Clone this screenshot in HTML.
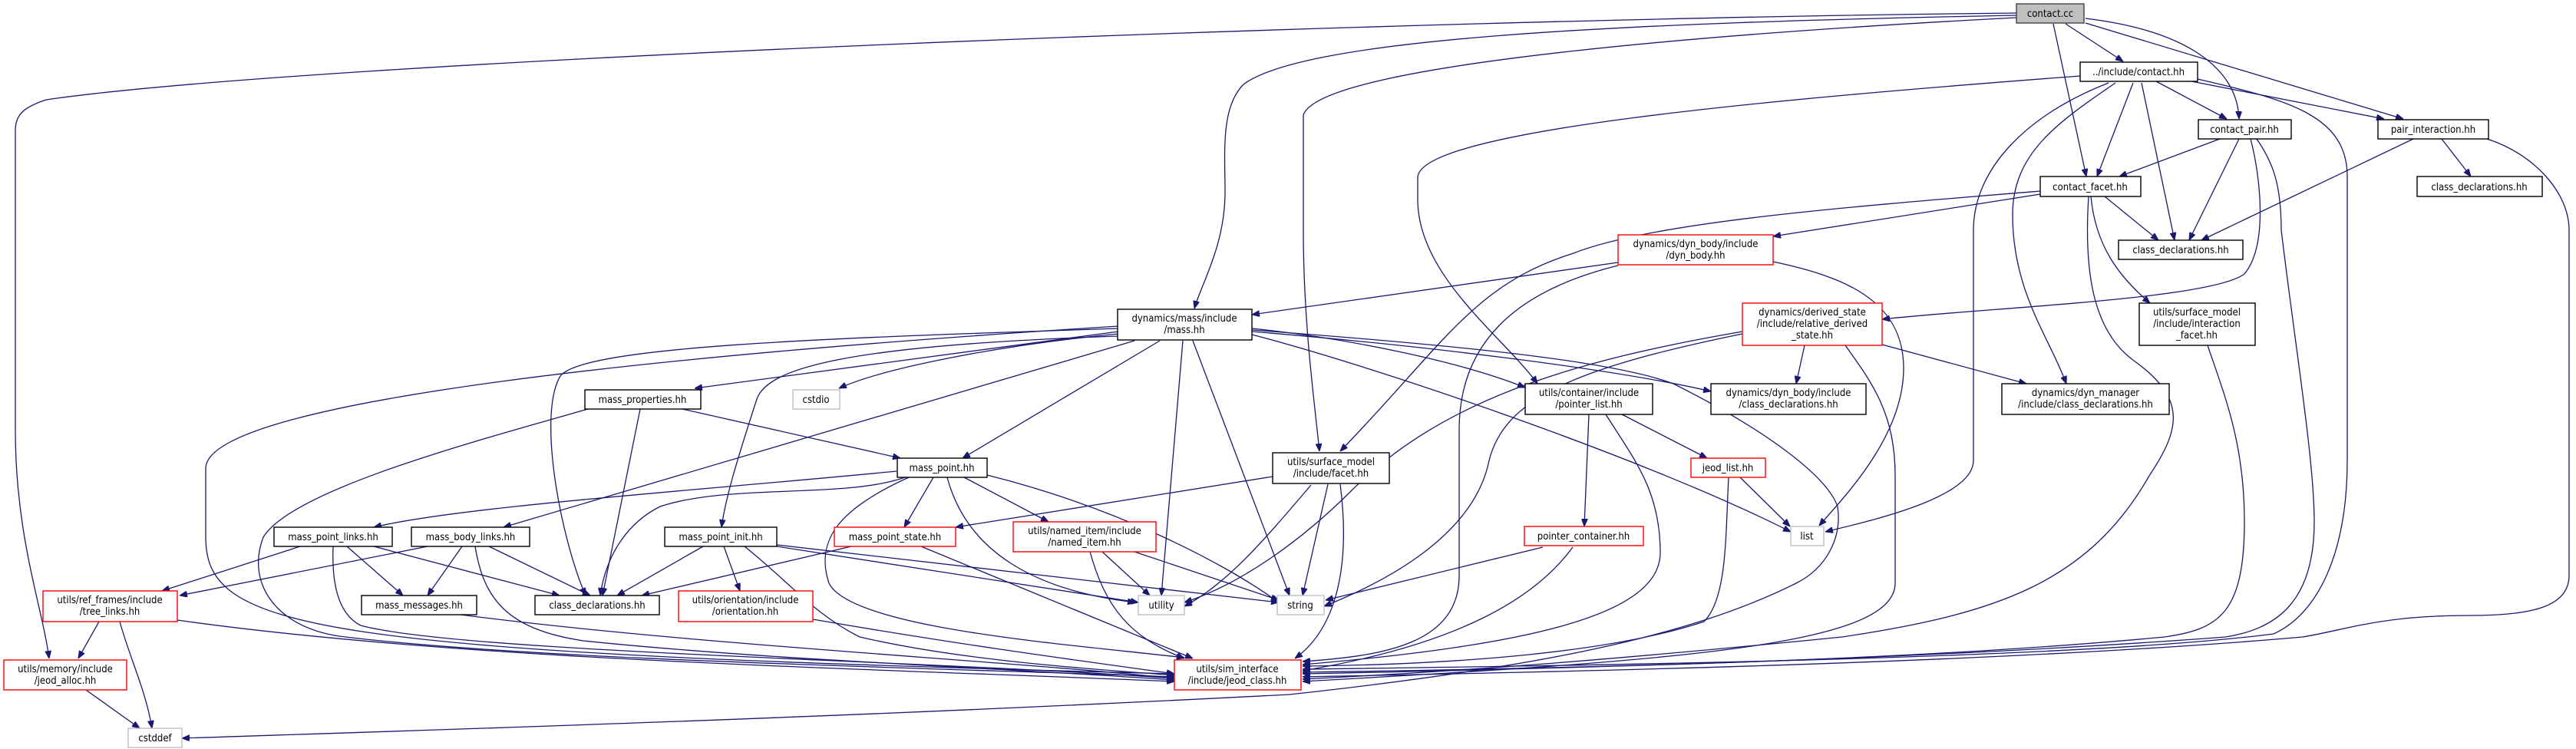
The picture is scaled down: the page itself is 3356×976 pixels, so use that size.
<!DOCTYPE html>
<html><head><meta charset="utf-8"><style>
html,body{margin:0;padding:0;background:#fff;}
svg{display:block;}
text{font-family:"DejaVu Sans Condensed","Liberation Sans",sans-serif;font-size:13px;fill:#000;}
.e{fill:none;stroke:#191970;stroke-width:1.3;marker-end:url(#a);}
.n{fill:#fff;stroke:#000;stroke-width:1.4;}
.r{fill:#fff;stroke:#ff0000;stroke-width:1.4;}
.g{fill:#fff;stroke:#bfbfbf;stroke-width:1.4;}
</style></head><body>
<svg width="3356" height="976" viewBox="0 0 3356 976" xmlns="http://www.w3.org/2000/svg">
<defs><marker id="a" viewBox="0 0 10 8" refX="10" refY="4" markerWidth="10" markerHeight="8" markerUnits="userSpaceOnUse" orient="auto"><path d="M0,0 L10,4 L0,8 z" fill="#191970" stroke="#191970"/></marker></defs>
<g>
<!-- contact.cc edges -->
<path class="e" d="M2627,17 C1800,25 400,80 60,130 C30,140 20,150 20,170 L20,560 C20,700 55,790 64,858"/>
<path class="e" d="M2627,20 C2100,30 1700,50 1620,110 C1590,140 1596,200 1596,250 C1596,320 1565,370 1556,402"/>
<path class="e" d="M2627,23 C2300,40 1720,80 1698,150 L1698,300 C1698,420 1712,520 1719,588"/>
<path class="e" d="M2691,31 L2766,80"/>
<path class="e" d="M2675,31 L2718,230"/>
<path class="e" d="M2717,24 C2850,40 2915,90 2917,155"/>
<path class="e" d="M2717,30 L3131,155"/>
<!-- contact.hh edges -->
<path class="e" d="M2809,106 L2901,155"/>
<path class="e" d="M2855,106 L3106,155"/>
<path class="e" d="M2779,108 L2732,230"/>
<path class="e" d="M2790,108 L2833,313"/>
<path class="e" d="M2747,108 C2640,150 2571,220 2571,300 L2571,600 C2571,650 2430,680 2378,693"/>
<path class="e" d="M2756,108 C2680,160 2622,200 2622,280 C2622,380 2670,440 2692,500"/>
<path class="e" d="M2710,99 C2300,130 1850,170 1847,231 L1847,260 C1847,360 1960,440 2003,500"/>
<path class="e" d="M2863,103 C2980,130 3058,150 3058,230 L3058,600 C3058,720 3020,800 2962,826 C2700,860 2000,868 1697,872"/>
<!-- contact_pair edges -->
<path class="e" d="M2892,181 L2761,230"/>
<path class="e" d="M2917,181 L2852,313"/>
<path class="e" d="M2932,181 C2945,230 2955,320 2924,357 C2880,390 2600,400 2452,416"/>
<path class="e" d="M2940,181 C2960,210 2972,238 2972,300 C2990,450 3015,600 3015,680 C3015,790 2960,820 2900,830 C2500,860 2000,872 1697,878"/>
<!-- pair_interaction edges -->
<path class="e" d="M3181,181 L3219,230"/>
<path class="e" d="M3144,181 L2868,313"/>
<path class="e" d="M3240,181 C3300,200 3347,250 3347,300 L3347,750 C3347,790 3300,802 3219,802 C3100,802 3060,820 3000,830 C2600,865 2000,876 1697,882"/>
<!-- contact_facet edges -->
<path class="e" d="M2742,256 L2812,313"/>
<path class="e" d="M2658,253 L2310,308"/>
<path class="e" d="M2724,256 C2730,320 2760,360 2801,395"/>
<path class="e" d="M2658,249 C2400,270 2150,290 2050,330 C1920,370 1880,450 1746,588"/>
<path class="e" d="M2721,256 C2715,350 2725,430 2780,470 C2850,520 2840,560 2800,620 C2720,760 2600,800 2400,830 C2100,860 1900,875 1697,885"/>
<!-- dyn_body edges -->
<path class="e" d="M2108,342 L1631,410"/>
<path class="e" d="M2310,341 C2400,360 2480,390 2480,480 C2480,570 2400,650 2370,685"/>
<path class="e" d="M2108,346 C1970,380 1901,450 1901,560 L1901,750 C1901,840 1800,855 1697,862"/>
<!-- relative_derived_state edges -->
<path class="e" d="M2351,450 L2340,500"/>
<path class="e" d="M2452,449 L2640,500"/>
<path class="e" d="M2270,432 C2050,470 1880,520 1760,640 C1700,700 1620,760 1543,785"/>
<path class="e" d="M2270,435 C2050,480 1960,520 1940,600 C1920,700 1800,760 1725,790"/>
<path class="e" d="M2404,450 C2440,500 2469,540 2469,620 L2469,760 C2469,840 2200,860 1697,888"/>
<!-- mass.hh edges -->
<path class="e" d="M1457,432 L905,506"/>
<path class="e" d="M1457,435 C1300,450 1150,480 1093,506"/>
<path class="e" d="M1511,444 L1254,597"/>
<path class="e" d="M1478,444 L656,687"/>
<path class="e" d="M1457,438 C1100,450 1000,480 986,520 C960,600 945,650 940,687"/>
<path class="e" d="M1457,428 C1100,440 760,450 730,490 C700,540 730,700 763,776"/>
<path class="e" d="M1457,425 C900,460 270,520 268,610 L268,700 C268,820 400,850 1530,878"/>
<path class="e" d="M1541,444 L1513,776"/>
<path class="e" d="M1554,444 L1680,776"/>
<path class="e" d="M1631,428 C1750,440 1900,470 1987,505"/>
<path class="e" d="M1631,432 C1850,450 2100,480 2229,510"/>
<path class="e" d="M1631,436 C1800,480 2150,600 2333,693"/>
<path class="e" d="M1631,430 C1900,450 2100,470 2180,500 C2300,560 2380,620 2394,660 C2400,700 2380,740 2340,760 C2200,830 2000,870 1680,905 C1100,935 600,950 237,962"/>
<!-- mass_properties edges -->
<path class="e" d="M889,533 L1173,597"/>
<path class="e" d="M834,533 L785,776"/>
<path class="e" d="M766,533 C600,580 380,640 343,700 C320,760 360,820 450,830 C700,860 1200,870 1530,882"/>
<!-- mass_point edges -->
<path class="e" d="M1168,614 C900,640 600,660 487,687"/>
<path class="e" d="M1179,622 C1100,650 950,630 860,660 C820,680 790,720 782,776"/>
<path class="e" d="M1216,622 L1178,687"/>
<path class="e" d="M1256,622 L1366,680"/>
<path class="e" d="M1234,622 C1260,720 1350,770 1479,785"/>
<path class="e" d="M1286,619 C1450,660 1590,730 1666,785"/>
<path class="e" d="M1184,622 C1100,660 1060,700 1080,760 C1110,820 1400,840 1543,857"/>
<!-- mass_point_links -->
<path class="e" d="M391,712 L211,770"/>
<path class="e" d="M452,712 L525,776"/>
<path class="e" d="M487,712 L729,776"/>
<path class="e" d="M434,712 C432,760 440,800 470,815 C600,850 1200,860 1530,884"/>
<!-- mass_body_links -->
<path class="e" d="M557,712 L234,776"/>
<path class="e" d="M602,712 L557,776"/>
<path class="e" d="M637,712 L769,776"/>
<path class="e" d="M619,712 C630,780 660,820 760,835 C1000,860 1300,870 1530,886"/>
<!-- mass_point_init -->
<path class="e" d="M916,712 L804,776"/>
<path class="e" d="M943,712 L964,770"/>
<path class="e" d="M1012,712 L1483,785"/>
<path class="e" d="M1012,710 L1666,785"/>
<path class="e" d="M970,712 C1030,760 1060,800 1120,830 C1250,860 1400,870 1530,880"/>
<!-- mass_point_state -->
<path class="e" d="M1109,712 L836,776"/>
<path class="e" d="M1200,712 L1554,858"/>
<!-- named_item -->
<path class="e" d="M1436,719 L1498,776"/>
<path class="e" d="M1478,719 L1666,782"/>
<path class="e" d="M1420,719 C1440,790 1470,830 1543,858"/>
<!-- tree_links -->
<path class="e" d="M129,810 L102,858"/>
<path class="e" d="M156,810 C170,860 190,900 198,949"/>
<path class="e" d="M231,808 C600,860 1100,870 1530,888"/>
<path class="e" d="M112,899 L182,949"/>
<path class="e" d="M600,801 C900,840 1300,860 1530,884"/>
<path class="e" d="M1059,807 C1250,840 1400,860 1530,878"/>
<!-- facet.hh -->
<path class="e" d="M1658,621 L1245,687"/>
<path class="e" d="M1708,632 C1650,700 1600,760 1543,790"/>
<path class="e" d="M1730,631 L1697,776"/>
<path class="e" d="M1746,631 C1760,740 1740,820 1687,858"/>
<!-- pointer_list -->
<path class="e" d="M2113,540 L2224,597"/>
<path class="e" d="M2070,540 L2064,686"/>
<path class="e" d="M2092,540 C2130,600 2163,640 2163,720 C2163,800 2000,840 1697,866"/>
<!-- jeod_list -->
<path class="e" d="M2267,622 L2332,686"/>
<path class="e" d="M2252,622 C2248,700 2250,780 2220,810 C2100,850 1900,866 1697,868"/>
<!-- pointer_container -->
<path class="e" d="M2010,713 L1727,782"/>
<path class="e" d="M2049,713 C2000,780 1900,840 1697,874"/>
<!-- interaction_facet -->
<path class="e" d="M2876,450 C2900,520 2924,580 2924,680 C2924,800 2890,820 2820,830 C2500,860 2100,870 1697,876"/>
</g>
<!-- nodes -->
<rect x="2627" y="5" width="88" height="25" fill="#bfbfbf" stroke="#404040" stroke-width="1.4"/><text x="2671" y="22" text-anchor="middle">contact.cc</text>
<rect class="n" x="2710" y="81" width="153" height="25"/><text x="2786" y="98" text-anchor="middle">../include/contact.hh</text>
<rect class="n" x="2864" y="156" width="121" height="25"/><text x="2924" y="173" text-anchor="middle">contact_pair.hh</text>
<rect class="n" x="3098" y="156" width="144" height="25"/><text x="3170" y="173" text-anchor="middle">pair_interaction.hh</text>
<rect class="n" x="2658" y="230" width="131" height="26"/><text x="2723" y="248" text-anchor="middle">contact_facet.hh</text>
<rect class="n" x="3149" y="230" width="163" height="26"/><text x="3230" y="248" text-anchor="middle">class_declarations.hh</text>
<rect class="n" x="2760" y="313" width="162" height="25"/><text x="2841" y="330" text-anchor="middle">class_declarations.hh</text>
<rect class="r" x="2108" y="306" width="202" height="39"/><text x="2209" y="322" text-anchor="middle">dynamics/dyn_body/include</text><text x="2209" y="337" text-anchor="middle">/dyn_body.hh</text>
<rect class="r" x="2270" y="395" width="182" height="55"/><text x="2361" y="411" text-anchor="middle">dynamics/derived_state</text><text x="2361" y="426" text-anchor="middle">/include/relative_derived</text><text x="2361" y="441" text-anchor="middle">_state.hh</text>
<rect class="n" x="2787" y="395" width="151" height="55"/><text x="2862" y="411" text-anchor="middle">utils/surface_model</text><text x="2862" y="426" text-anchor="middle">/include/interaction</text><text x="2862" y="441" text-anchor="middle">_facet.hh</text>
<rect class="n" x="1456" y="403" width="175" height="40"/><text x="1543" y="419" text-anchor="middle">dynamics/mass/include</text><text x="1543" y="434" text-anchor="middle">/mass.hh</text>
<rect class="n" x="1987" y="500" width="166" height="40"/><text x="2070" y="516" text-anchor="middle">utils/container/include</text><text x="2070" y="531" text-anchor="middle">/pointer_list.hh</text>
<rect class="n" x="2229" y="500" width="202" height="40"/><text x="2330" y="516" text-anchor="middle">dynamics/dyn_body/include</text><text x="2330" y="531" text-anchor="middle">/class_declarations.hh</text>
<rect class="n" x="2608" y="500" width="218" height="40"/><text x="2717" y="516" text-anchor="middle">dynamics/dyn_manager</text><text x="2717" y="531" text-anchor="middle">/include/class_declarations.hh</text>
<rect class="n" x="762" y="508" width="151" height="25"/><text x="837" y="525" text-anchor="middle">mass_properties.hh</text>
<rect class="g" x="1033" y="508" width="61" height="25"/><text x="1063" y="525" text-anchor="middle">cstdio</text>
<rect class="n" x="1169" y="597" width="117" height="25"/><text x="1227" y="614" text-anchor="middle">mass_point.hh</text>
<rect class="n" x="1658" y="590" width="152" height="40"/><text x="1734" y="606" text-anchor="middle">utils/surface_model</text><text x="1734" y="621" text-anchor="middle">/include/facet.hh</text>
<rect class="r" x="2203" y="597" width="97" height="25"/><text x="2251" y="614" text-anchor="middle">jeod_list.hh</text>
<rect class="n" x="357" y="687" width="154" height="25"/><text x="434" y="704" text-anchor="middle">mass_point_links.hh</text>
<rect class="n" x="536" y="687" width="154" height="25"/><text x="613" y="704" text-anchor="middle">mass_body_links.hh</text>
<rect class="n" x="866" y="687" width="146" height="25"/><text x="939" y="704" text-anchor="middle">mass_point_init.hh</text>
<rect class="r" x="1087" y="687" width="158" height="25"/><text x="1166" y="704" text-anchor="middle">mass_point_state.hh</text>
<rect class="r" x="1320" y="680" width="186" height="39"/><text x="1413" y="696" text-anchor="middle">utils/named_item/include</text><text x="1413" y="711" text-anchor="middle">/named_item.hh</text>
<rect class="r" x="1986" y="686" width="155" height="25"/><text x="2063" y="703" text-anchor="middle">pointer_container.hh</text>
<rect class="g" x="2333" y="686" width="43" height="25"/><text x="2354" y="703" text-anchor="middle">list</text>
<rect class="r" x="56" y="770" width="175" height="40"/><text x="143" y="786" text-anchor="middle">utils/ref_frames/include</text><text x="143" y="801" text-anchor="middle">/tree_links.hh</text>
<rect class="n" x="471" y="776" width="150" height="25"/><text x="546" y="793" text-anchor="middle">mass_messages.hh</text>
<rect class="n" x="697" y="776" width="162" height="25"/><text x="778" y="793" text-anchor="middle">class_declarations.hh</text>
<rect class="r" x="884" y="770" width="175" height="40"/><text x="971" y="786" text-anchor="middle">utils/orientation/include</text><text x="971" y="801" text-anchor="middle">/orientation.hh</text>
<rect class="g" x="1483" y="776" width="60" height="25"/><text x="1513" y="793" text-anchor="middle">utility</text>
<rect class="g" x="1664" y="776" width="61" height="25"/><text x="1694" y="793" text-anchor="middle">string</text>
<rect class="r" x="5" y="860" width="160" height="39"/><text x="85" y="876" text-anchor="middle">utils/memory/include</text><text x="85" y="891" text-anchor="middle">/jeod_alloc.hh</text>
<rect class="r" x="1530" y="860" width="165" height="39"/><text x="1612" y="876" text-anchor="middle">utils/sim_interface</text><text x="1612" y="891" text-anchor="middle">/include/jeod_class.hh</text>
<rect class="g" x="167" y="949" width="70" height="25"/><text x="202" y="966" text-anchor="middle">cstddef</text>
</svg>
</body></html>
